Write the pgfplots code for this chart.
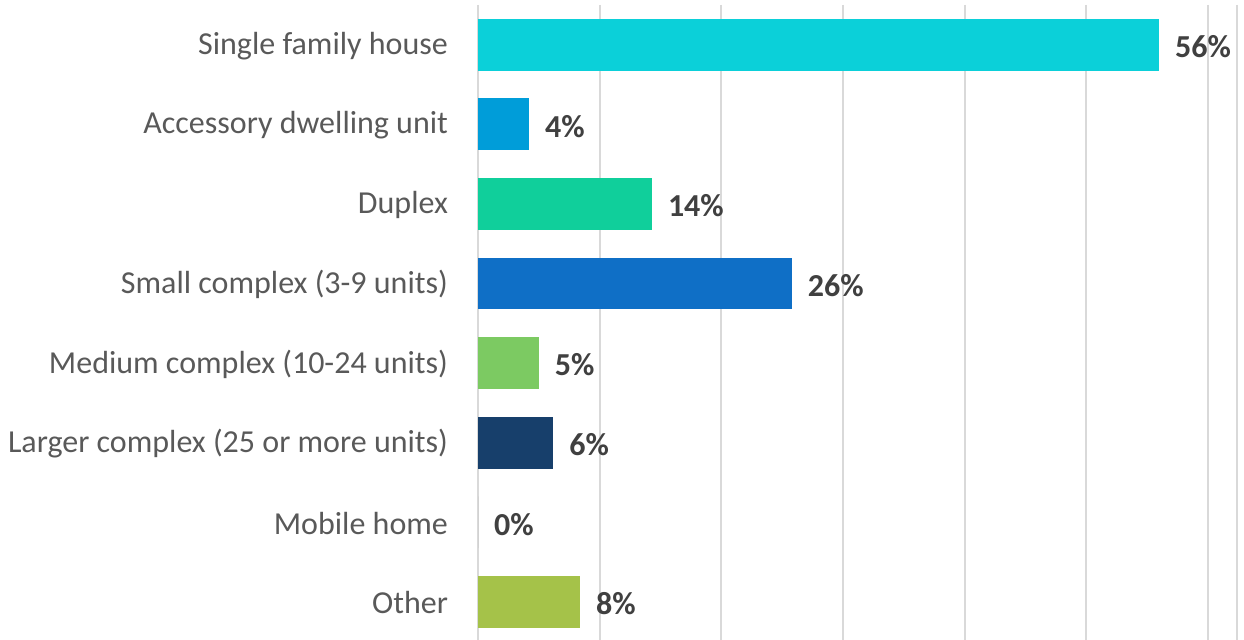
\documentclass[border=0pt]{standalone}
\usepackage{fontspec}
\setmainfont{Carlito}
\usepackage{pgfplots}
\pgfplotsset{compat=1.18}
\usetikzlibrary{calc}
\definecolor{c1}{HTML}{0BD0D9}
\definecolor{c2}{HTML}{009DD9}
\definecolor{c3}{HTML}{10CF9B}
\definecolor{c4}{HTML}{0F6FC6}
\definecolor{c5}{HTML}{7CCA62}
\definecolor{c6}{HTML}{173F6B}
\definecolor{c7}{HTML}{A0A0A0}
\definecolor{c8}{HTML}{A5C249}
\definecolor{lab}{HTML}{595959}
\definecolor{dl}{HTML}{404040}
\definecolor{gridc}{HTML}{D9D9D9}
\begin{document}
\begin{tikzpicture}
\begin{axis}[
  name=ax,
  xbar, scale only axis,
  width=379.5pt, height=318.3pt,
  xmin=0, xmax=62.4, ymin=-0.5, ymax=7.5, y dir=reverse,
  axis line style={draw=none},
  major tick length=0pt,
  xtick={0,10,...,60}, xticklabels={},
  extra x ticks={62.4}, extra x tick labels={},
  xmajorgrids, grid style={draw=gridc, line width=1pt},
  ytick={0,...,7},
  yticklabels={Single family house, Accessory dwelling unit, Duplex, Small complex (3-9 units), Medium complex (10-24 units), Larger complex (25 or more units), Mobile home, Other},
  yticklabel style={font=\fontsize{16}{19}\selectfont, text=lab, xshift=-11.5pt, yshift=-0.5pt},
  bar width=0.653, bar shift=0pt,
  point meta=x,
  nodes near coords={\pgfmathprintnumber[fixed,precision=0,assume math mode=true]{\pgfplotspointmeta}\%},
  nodes near coords style={font=\fontsize{16}{19}\selectfont\bfseries, text=dl, xshift=4.5pt, yshift=-1pt},
]
\addplot[fill=c1, draw=none] coordinates {(56.0,0)};
\addplot[fill=c2, draw=none] coordinates {(4.2,1)};
\addplot[fill=c3, draw=none] coordinates {(14.3,2)};
\addplot[fill=c4, draw=none] coordinates {(25.8,3)};
\addplot[fill=c5, draw=none] coordinates {(5.0,4)};
\addplot[fill=c6, draw=none] coordinates {(6.2,5)};
\addplot[fill=c7, draw=none] coordinates {(0,6)};
\addplot[fill=c8, draw=none] coordinates {(8.4,7)};
\end{axis}
\pgfresetboundingbox
\path ($(ax.south west)+(-239pt,0.9pt)$) rectangle ($(ax.north east)+(3.5pt,2.5pt)$);
\end{tikzpicture}
\end{document}
